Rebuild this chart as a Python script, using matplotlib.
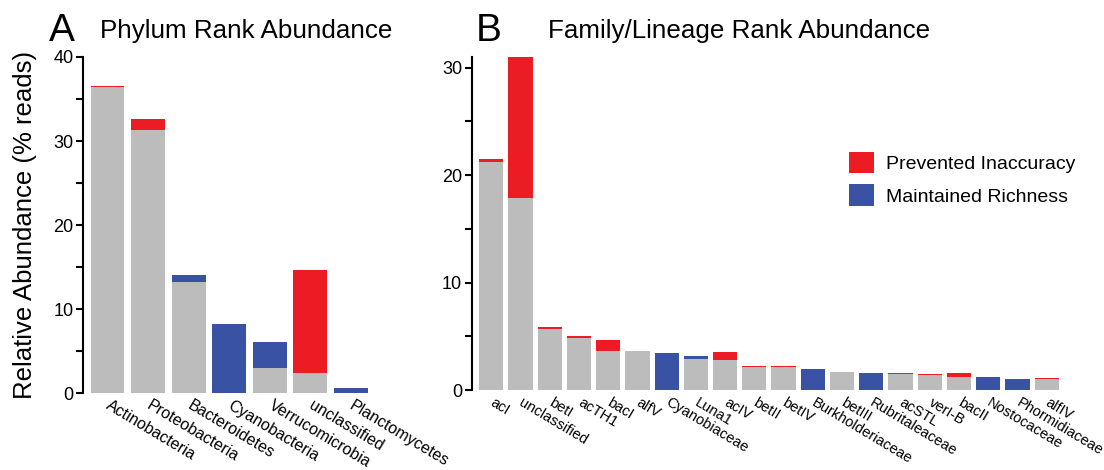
import matplotlib
matplotlib.use("Agg")
import matplotlib.pyplot as plt
from matplotlib.patches import Patch
from matplotlib.ticker import MultipleLocator

plt.rcParams['font.family'] = ['Liberation Sans', 'DejaVu Sans']

GRAY = '#BCBCBC'
RED = '#EC1C24'
BLUE = '#3A52A3'

# Panel A data
phyla = ['Actinobacteria', 'Proteobacteria', 'Bacteroidetes', 'Cyanobacteria',
         'Verrucomicrobia', 'unclassified', 'Planctomycetes']
phylum_base = [36.4, 31.35, 13.26, 0.0, 3.0, 2.45, 0.0]
phylum_inaccuracy = [0.1, 1.3, 0.0, 0.0, 0.0, 12.25, 0.0]
phylum_richness = [0.0, 0.0, 0.8, 8.3, 3.06, 0.0, 0.67]

# Panel B data
families = ['acI', 'unclassified', 'betI', 'acTH1', 'bacI', 'alfV', 'Cyanobiaceae',
            'Luna1', 'acIV', 'betII', 'betIV', 'Burkholderiaceae', 'betIII',
            'Rubritaleaceae', 'acSTL', 'verI-B', 'bacII', 'Nostocaceae',
            'Phormidiaceae', 'alfIV']
family_base = [21.2, 17.9, 5.71, 4.87, 3.63, 3.62, 0.0, 2.89, 2.79, 2.18, 2.18,
               0.0, 1.66, 0.0, 1.52, 1.44, 1.24, 0.0, 0.0, 0.99]
family_inaccuracy = [0.3, 13.1, 0.13, 0.16, 1.05, 0.04, 0.0, 0.0, 0.78, 0.05, 0.05,
                     0.0, 0.05, 0.0, 0.06, 0.05, 0.31, 0.0, 0.0, 0.1]
family_richness = [0.0, 0.0, 0.0, 0.0, 0.0, 0.0, 3.42, 0.28, 0.0, 0.0, 0.0,
                   1.99, 0.0, 1.58, 0.0, 0.0, 0.0, 1.18, 1.05, 0.0]

fig = plt.figure(figsize=(11.04, 4.70), dpi=100)
axA = fig.add_axes([0.0755, 0.163, 0.29, 0.716])
axB = fig.add_axes([0.4273, 0.170, 0.542, 0.709])


def draw(ax, names, base, inacc, rich, ymax, major, lblsize, xl):
    x = list(range(len(names)))
    w = 0.83
    ax.bar(x, base, width=w, color=GRAY, edgecolor='none')
    ax.bar(x, inacc, width=w, bottom=base, color=RED, edgecolor='none')
    bot2 = [b + i for b, i in zip(base, inacc)]
    ax.bar(x, rich, width=w, bottom=bot2, color=BLUE, edgecolor='none')
    ax.set_ylim(0, ymax)
    ax.set_xlim(*xl)
    for s in ['top', 'right', 'bottom']:
        ax.spines[s].set_visible(False)
    ax.spines['left'].set_linewidth(1.5)
    ax.yaxis.set_major_locator(MultipleLocator(major))
    ax.yaxis.set_minor_locator(MultipleLocator(major / 2))
    ax.tick_params(axis='y', which='both', length=5, width=1.5, labelsize=13, pad=2)
    ax.set_xticks(x)
    ax.set_xticklabels(names, rotation=-31, ha='left', va='center',
                       rotation_mode='anchor', fontsize=lblsize)
    ax.tick_params(axis='x', length=0, pad=8)


draw(axA, phyla, phylum_base, phylum_inaccuracy, phylum_richness, 40, 10, 11.5, (-0.6, 7.3))
draw(axB, families, family_base, family_inaccuracy, family_richness, 31, 10, 10.5, (-0.667, 19.8))

axA.set_ylabel('Relative Abundance (% reads)', fontsize=18.5, labelpad=12)

fig.text(0.044, 0.933, 'A', fontsize=28, va='center', ha='left')
fig.text(0.091, 0.935, 'Phylum Rank Abundance', fontsize=18.7, va='center', ha='left')
fig.text(0.431, 0.933, 'B', fontsize=28, va='center', ha='left')
fig.text(0.496, 0.935, 'Family/Lineage Rank Abundance', fontsize=18.7, va='center', ha='left')

handles = [Patch(facecolor=RED, edgecolor='none', label='Prevented Inaccuracy'),
           Patch(facecolor=BLUE, edgecolor='none', label='Maintained Richness')]
axB.legend(handles=handles, loc='upper left', bbox_to_anchor=(0.630, 0.714),
           frameon=False, fontsize=14, handlelength=1.3, handleheight=1.3,
           handletextpad=0.6, labelspacing=0.57, borderpad=0, borderaxespad=0)

fig.savefig('out.png', dpi=100)
